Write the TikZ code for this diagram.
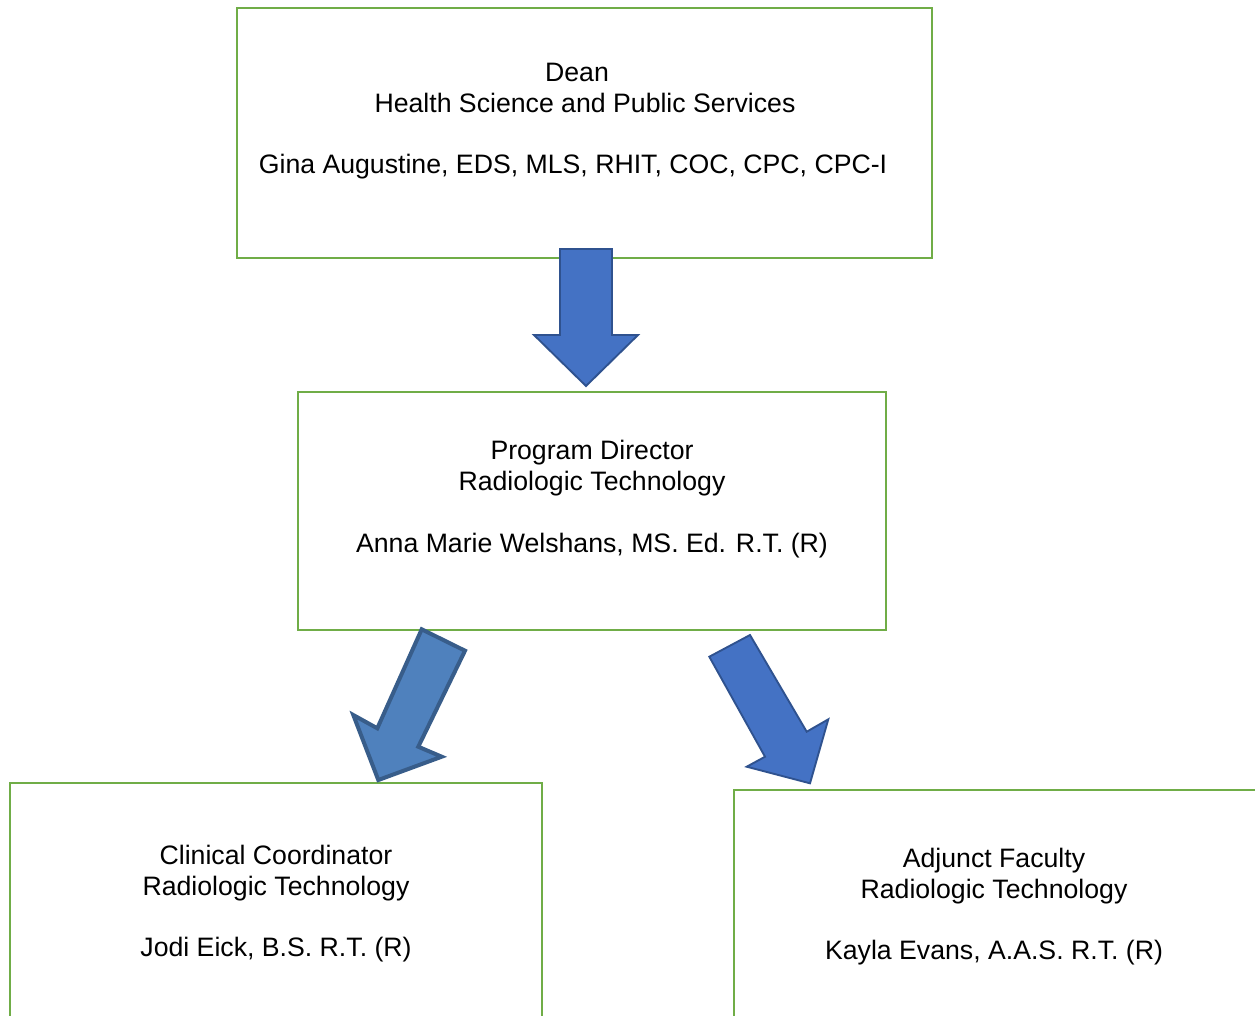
\documentclass[tikz,border=0pt]{standalone}
\usepackage{fontspec}
\setmainfont{Liberation Sans}
\definecolor{boxgreen}{HTML}{70AD47}
\definecolor{arrfill}{HTML}{4472C4}
\definecolor{arrdraw}{HTML}{2F528F}
\definecolor{arrfillb}{HTML}{4F81BD}
\definecolor{arrdrawb}{HTML}{385D8A}
\tikzset{
  orgbox/.style={draw=boxgreen, line width=1.9pt, rectangle, inner sep=0pt, fill=none},
  txt/.style={anchor=base, inner sep=0pt, font=\fontsize{20}{23.3}\selectfont, text=black},
  blockarrow/.style={fill=arrfill, draw=arrdraw, line width=1.4pt, line join=miter},
  blockarrowb/.style={fill=arrfillb, draw=arrdrawb, line width=3pt, line join=miter}
}
\begin{document}
\begin{tikzpicture}[x=0.75pt,y=-0.75pt]
\clip (0,0) rectangle (1255,1015);
\fill[white] (0,0) rectangle (1255,1015);
% boxes
\node[orgbox, minimum width=695*0.75pt, minimum height=250*0.75pt] (dean) at (584.5,133) {};
\node[orgbox, minimum width=588*0.75pt, minimum height=238*0.75pt] (pd) at (592,511) {};
\node[orgbox, minimum width=532*0.75pt, minimum height=300*0.75pt] (cc) at (276,933) {};
\node[orgbox, minimum width=530*0.75pt, minimum height=300*0.75pt] (af) at (999,940) {};
% texts
\node[txt] (t1a) at (577,81) {Dean};
\node[txt] (t1b) at (585,112) {Health Science and Public Services};
\node[txt] (t1c) at (573,173) {Gina Augustine, EDS, MLS, RHIT, COC, CPC, CPC-I};
\node[txt] (t2a) at (592,459) {Program Director};
\node[txt] (t2b) at (592,490) {Radiologic Technology};
\node[txt] (t2c) at (592,552) {Anna Marie Welshans, MS. Ed. R.T. (R)};
\node[txt] (t3a) at (276,864) {Clinical Coordinator};
\node[txt] (t3b) at (276,895) {Radiologic Technology};
\node[txt] (t3c) at (276,956) {Jodi Eick, B.S. R.T. (R)};
\node[txt] (t4a) at (994,867) {Adjunct Faculty};
\node[txt] (t4b) at (994,898) {Radiologic Technology};
\node[txt] (t4c) at (994,959) {Kayla Evans, A.A.S. R.T. (R)};
% block arrows
\draw[blockarrow] (560,249) -- (612,249) -- (612,335) -- (638,335) -- (586,386)
  -- (534,335) -- (560,335) -- cycle;
\draw[blockarrowb] (421.7,629.3) -- (465,650.7) -- (418.3,746.7) -- (441.7,756.7)
  -- (378.3,780) -- (353.3,715) -- (377.3,728.3) -- cycle;
\draw[blockarrow] (709.3,656.7) -- (750,635) -- (806.7,731.7) -- (828.3,719.3)
  -- (810,783.3) -- (746.7,766.7) -- (765,756.7) -- cycle;
\end{tikzpicture}
\end{document}
